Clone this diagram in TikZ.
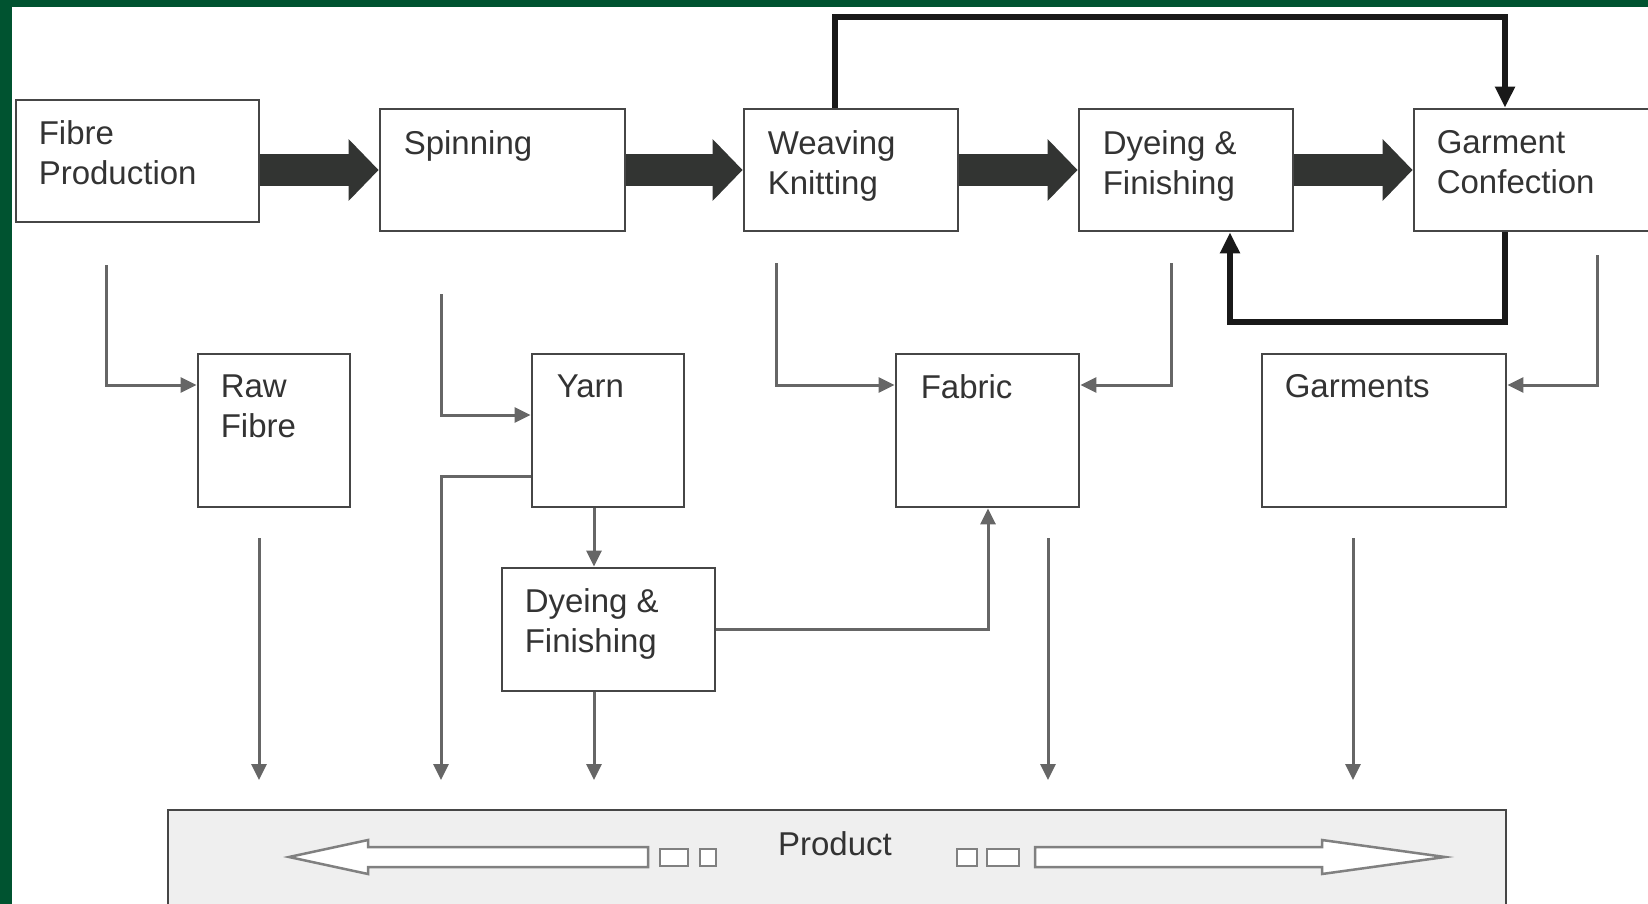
\documentclass[tikz,border=0pt]{standalone}
\usepackage{fontspec}
\setmainfont{Liberation Sans}
\usetikzlibrary{arrows.meta,positioning}
\definecolor{framegreen}{RGB}{0,83,48}
\definecolor{boxline}{RGB}{70,70,70}
\definecolor{flowdark}{RGB}{50,52,50}
\definecolor{productfill}{RGB}{239,239,239}

\begin{document}
\begin{tikzpicture}[
    x=1pt, y=-1pt,
    block/.style={rectangle, draw=boxline, line width=2.8pt, fill=white, minimum height=122pt},
    boxtext/.style={anchor=north west, inner sep=0pt, align=left, text=black!80, font=\fontsize{33}{40}\selectfont},
    bigflow/.style={draw=flowdark, line width=32pt, -{Triangle[length=30pt,width=60pt]}},
    feedback/.style={draw=black!90, line width=6pt, -{Triangle[length=21pt,width=19pt]}},
    thinflow/.style={draw=black!60, line width=3pt, -{Triangle[length=16pt,width=15pt]}},
    hollow/.style={draw=black!50, line width=2.5pt, fill=white}
]
\useasboundingbox (0,0) rectangle (1648,904);

% Frame
\fill[framegreen] (0,0) rectangle (1648,7);
\fill[framegreen] (0,0) rectangle (12,904);

% Top row: stages
\node[block, minimum width=243pt] (fibre) at (137.5,161) {};
\node[boxtext] (fibreT) at ([shift={(24,22)}]fibre.north west) {Fibre\\Production};

\node[block, minimum width=245pt] (spinning) at (502.5,170) {};
\node[boxtext] (spinningT) at ([shift={(25,23)}]spinning.north west) {Spinning};

\node[block, minimum width=214pt] (weaving) at (851,170) {};
\node[boxtext] (weavingT) at ([shift={(25,23)}]weaving.north west) {Weaving\\Knitting};

\node[block, minimum width=214pt] (dyeing) at (1186,170) {};
\node[boxtext] (dyeingT) at ([shift={(25,23)}]dyeing.north west) {Dyeing \&\\Finishing};

\node[block, minimum width=256pt] (garment) at (1542,170) {};
\node[boxtext] (garmentT) at ([shift={(24,23)}]garment.north west) {Garment\\Confection};

% Second row: intermediate goods
\node[block, minimum width=152pt, minimum height=153pt] (rawfibre) at (274,430.5) {};
\node[boxtext] (rawfibreT) at ([shift={(24,22)}]rawfibre.north west) {Raw\\Fibre};

\node[block, minimum width=152pt, minimum height=153pt] (yarn) at (608,430.5) {};
\node[boxtext] (yarnT) at ([shift={(26,22)}]yarn.north west) {Yarn};

\node[block, minimum width=183pt, minimum height=153pt] (fabric) at (987.5,430.5) {};
\node[boxtext] (fabricT) at ([shift={(26,22)}]fabric.north west) {Fabric};

\node[block, minimum width=244pt, minimum height=153pt] (garments) at (1384,430.5) {};
\node[boxtext] (garmentsT) at ([shift={(24,22)}]garments.north west) {Garments};

\node[block, minimum width=213pt, minimum height=123pt] (dyelow) at (608.5,629.5) {};
\node[boxtext] (dyelowT) at ([shift={(24,22)}]dyelow.north west) {Dyeing \&\\Finishing};

% Product bar
\node[block, fill=productfill, minimum width=1338pt, minimum height=96pt] (product) at (837,858) {};
\node[boxtext, anchor=base] (productT) at (835,855) {Product};
\draw[hollow] (289,857) -- (368,840) -- (368,847) -- (648,847) -- (648,867) -- (368,867) -- (368,874) -- cycle;
\draw[hollow, line width=2pt] (660,849) rectangle (688,866);
\draw[hollow, line width=2pt] (700,849) rectangle (716,866);
\draw[hollow, line width=2pt] (957,849) rectangle (977,866);
\draw[hollow, line width=2pt] (987,849) rectangle (1019,866);
\draw[hollow] (1035,847) -- (1322,847) -- (1322,840) -- (1445,857) -- (1322,874) -- (1322,867) -- (1035,867) -- cycle;

% Main flow
\draw[bigflow] (fibre.east |- spinning.west) -- (spinning.west);
\draw[bigflow] (spinning.east) -- (weaving.west);
\draw[bigflow] (weaving.east) -- (dyeing.west);
\draw[bigflow] (dyeing.east) -- (garment.west);

% Feedback loops
\coordinate (topW) at (835,17);
\coordinate (topG) at (1505,17);
\draw[feedback] (weaving.north -| topW) -- (topW) -- (topG) -- (garment.north -| topG);
\coordinate (botG) at (1505,322);
\coordinate (botD) at (1230,322);
\draw[feedback] (garment.south -| botG) -- (botG) -- (botD) -- (dyeing.south -| botD);

% Outputs of each stage
\coordinate (prodLine) at (0,780);
\coordinate (fibreOut) at (106,265);
\coordinate (rawIn) at (106,385);
\draw[thinflow] (fibreOut) -- (rawIn) -- (rawIn -| rawfibre.west);
\coordinate (spinOut) at (441,294);
\coordinate (yarnIn) at (441,415);
\draw[thinflow] (spinOut) -- (yarnIn) -- (yarnIn -| yarn.west);
\coordinate (weaveOut) at (776,263);
\coordinate (fabInL) at (776,385);
\draw[thinflow] (weaveOut) -- (fabInL) -- (fabInL -| fabric.west);
\coordinate (dyeOut) at (1171,263);
\coordinate (fabInR) at (1171,385);
\draw[thinflow] (dyeOut) -- (fabInR) -- (fabInR -| fabric.east);
\coordinate (garmOut) at (1597,255);
\coordinate (garmIn) at (1597,385);
\draw[thinflow] (garmOut) -- (garmIn) -- (garmIn -| garments.east);

% Yarn branch
\coordinate (midX) at (594,600);
\draw[thinflow] (yarn.south -| midX) -- (dyelow.north -| midX);
\coordinate (fabUp) at (988,629);
\draw[thinflow] (dyelow.east |- fabUp) -- (fabUp) -- (fabric.south -| fabUp);
\coordinate (yarnOut) at (441,476);
\draw[thinflow] (yarnOut -| yarn.west) -- (yarnOut) -- (yarnOut |- prodLine);

% Into product
\draw[thinflow] (dyelow.south -| midX) -- (prodLine -| midX);
\coordinate (rawOut) at (259,538);
\draw[thinflow] (rawOut) -- (rawOut |- prodLine);
\coordinate (fabOut) at (1048,538);
\draw[thinflow] (fabOut) -- (fabOut |- prodLine);
\coordinate (garmsOut) at (1353,538);
\draw[thinflow] (garmsOut) -- (garmsOut |- prodLine);

\end{tikzpicture}
\end{document}
